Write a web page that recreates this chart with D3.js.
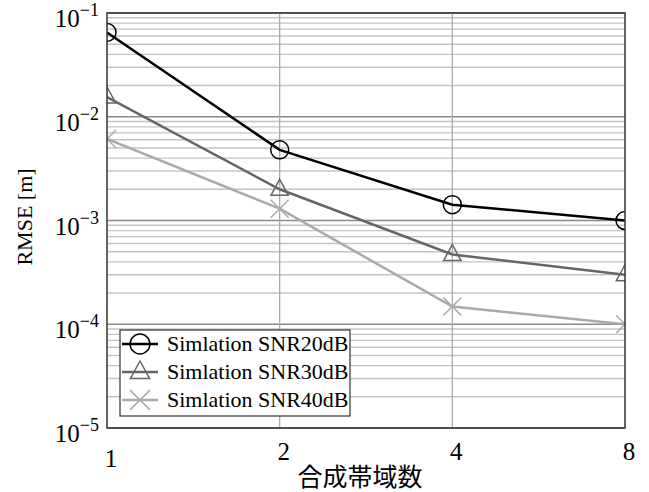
<!DOCTYPE html>
<html><head><meta charset="utf-8">
<script src="https://cdn.jsdelivr.net/npm/d3@7"></script>
<style>body{margin:0;background:#fff}</style>
</head><body>
<svg id="chart" width="649" height="492"></svg>
<script>
const bands = [1, 2, 4, 8];
const snr20 = [0.065, 0.0048, 0.00142, 0.00100];
const snr30 = [0.0155, 0.0020, 0.00047, 0.00030];
const snr40 = [0.0061, 0.0013, 0.000148, 0.000100];
const seriesNames = ["Simlation SNR20dB", "Simlation SNR30dB", "Simlation SNR40dB"];
const yTickExps = [-1, -2, -3, -4, -5];
const xTickLabels = ["1", "2", "4", "8"];

const svg = d3.select("#chart");
const L = 107, R = 625, T = 13, B = 428;
const x = d3.scaleLog().base(2).domain([1, 8]).range([L, R]);
const y = d3.scaleLog().domain([1e-5, 1e-1]).range([B, T]);

svg.append("defs").append("clipPath").attr("id", "clip")
  .append("rect").attr("x", L).attr("y", T).attr("width", R - L).attr("height", B - T);

// minor grid
const minor = [];
for (let e = -5; e < -1; e++) for (let m = 2; m <= 9; m++) minor.push(m * Math.pow(10, e));
svg.append("g").selectAll("line").data(minor).join("line")
  .attr("x1", L).attr("x2", R).attr("y1", d => y(d)).attr("y2", d => y(d))
  .attr("stroke", "#c4c4c4").attr("stroke-width", 1.3);
// major grid
svg.append("g").selectAll("line").data(yTickExps.map(e => Math.pow(10, e))).join("line")
  .attr("x1", L).attr("x2", R).attr("y1", d => y(d)).attr("y2", d => y(d))
  .attr("stroke", "#8a8a8a").attr("stroke-width", 1.3);
svg.append("g").selectAll("line").data([2, 4]).join("line")
  .attr("x1", d => x(d)).attr("x2", d => x(d)).attr("y1", T).attr("y2", B)
  .attr("stroke", "#aaaaaa").attr("stroke-width", 1.3);

const series = [
  {vals: snr20, color: "#000000", marker: "circle"},
  {vals: snr30, color: "#666666", marker: "triangle"},
  {vals: snr40, color: "#aaaaaa", marker: "cross"}
];
const line = d3.line().x((d, i) => x(bands[i])).y(d => y(d));
const plot = svg.append("g").attr("clip-path", "url(#clip)");

function drawMarker(g, type, cx, cy, color, k) {
  k = k || 1;
  if (type === "circle") {
    g.append("circle").attr("cx", cx).attr("cy", cy).attr("r", 9 * k)
      .attr("fill", "none").attr("stroke", color).attr("stroke-width", 1.5);
  } else if (type === "triangle") {
    const s = 10 * k;
    g.append("path").attr("d", `M${cx},${cy - s}L${cx + s * 0.87},${cy + s * 0.6}L${cx - s * 0.87},${cy + s * 0.6}Z`)
      .attr("fill", "none").attr("stroke", color).attr("stroke-width", 1.5);
  } else {
    const s = 9 * k;
    g.append("path").attr("d", `M${cx - s},${cy - s}L${cx + s},${cy + s}M${cx - s},${cy + s}L${cx + s},${cy - s}`)
      .attr("fill", "none").attr("stroke", color).attr("stroke-width", 1.5);
  }
}

series.slice().reverse().forEach(s => {
  plot.append("path").datum(s.vals).attr("d", line)
    .attr("fill", "none").attr("stroke", s.color).attr("stroke-width", 2.5);
  s.vals.forEach((v, i) => drawMarker(plot, s.marker, x(bands[i]), y(v), s.color));
});

// frame
svg.append("rect").attr("x", L).attr("y", T).attr("width", R - L).attr("height", B - T)
  .attr("fill", "none").attr("stroke", "#333").attr("stroke-width", 1.5);

// y tick labels
const yl = svg.append("g").attr("font-family", "Liberation Serif, serif").attr("fill", "#000");
yTickExps.forEach(e => {
  const t = yl.append("text").attr("x", 99).attr("y", y(Math.pow(10, e)) + 14)
    .attr("text-anchor", "end").attr("font-size", "25px");
  t.append("tspan").text("10");
  t.append("tspan").attr("dy", -11).attr("font-size", "18px").text("\u2212" + Math.abs(e));
});

// x tick labels
svg.append("g").selectAll("text").data(bands).join("text")
  .attr("x", d => x(d) + 4).attr("y", (d, i) => i === 0 ? 467 : 460)
  .attr("text-anchor", "middle").attr("font-family", "Liberation Serif, serif")
  .attr("font-size", "25px").text((d, i) => xTickLabels[i]);

// axis labels
svg.append("text").attr("x", 360).attr("y", 486).attr("text-anchor", "middle")
  .attr("font-family", "Noto Sans CJK JP, sans-serif").attr("font-size", "25px").text("合成帯域数");
svg.append("text").attr("transform", "translate(32,217) rotate(-90)").attr("text-anchor", "middle")
  .attr("font-family", "Liberation Serif, serif").attr("font-size", "22px").text("RMSE [m]");

// legend
const lg = svg.append("g");
lg.append("rect").attr("x", 120).attr("y", 330).attr("width", 230).attr("height", 86)
  .attr("fill", "#fff").attr("stroke", "#333").attr("stroke-width", 1.2);
series.forEach((s, i) => {
  const cy = 344 + i * 28;
  lg.append("line").attr("x1", 122).attr("x2", 158).attr("y1", cy).attr("y2", cy)
    .attr("stroke", s.color).attr("stroke-width", 2.5);
  drawMarker(lg, s.marker, 140, cy, s.color, 1.1);
  lg.append("text").attr("x", 167).attr("y", cy + 7).attr("font-family", "Liberation Serif, serif")
    .attr("font-size", "22px").text(seriesNames[i]);
});
</script>
</body></html>
